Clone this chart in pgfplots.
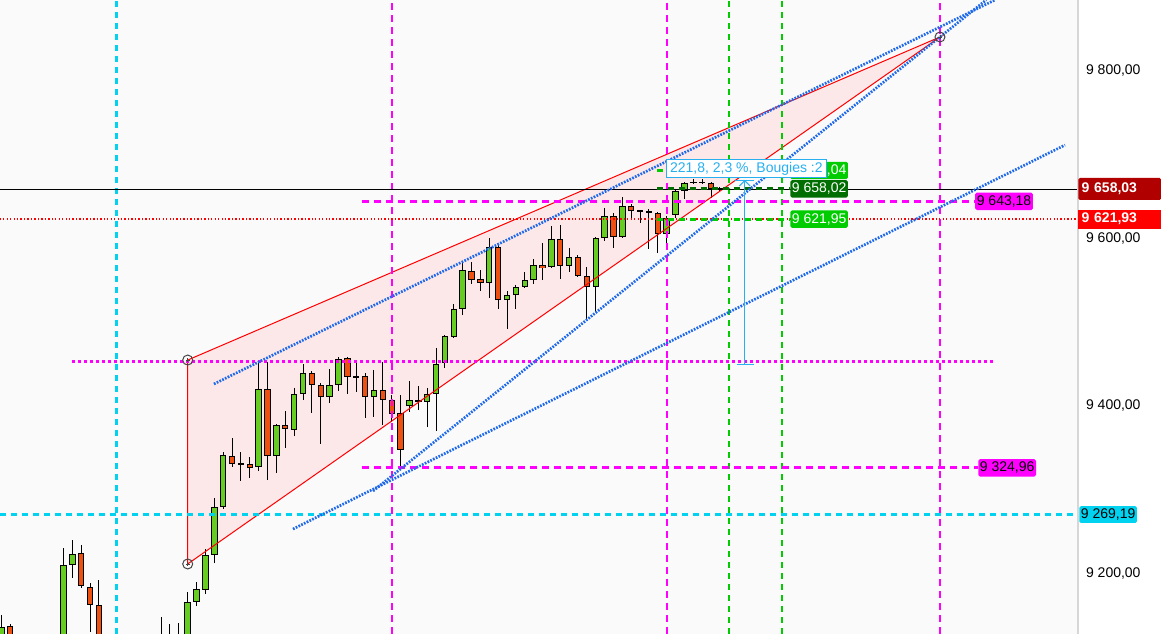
\documentclass[border=0pt]{standalone}
\usepackage{pgfplots}
\pgfplotsset{compat=1.18}
\usepackage{pgfplotstable}
\usepackage{fontspec}
\setmainfont{Liberation Sans}

\definecolor{bgc}{RGB}{250,250,250}
\definecolor{upc}{RGB}{102,204,34}
\definecolor{dnc}{RGB}{238,80,18}
\definecolor{pinkf}{RGB}{253,232,233}
\definecolor{mag}{RGB}{255,0,255}
\definecolor{cy}{RGB}{0,210,240}
\definecolor{gr}{RGB}{0,204,0}
\definecolor{dgr}{RGB}{0,110,0}
\definecolor{blu}{RGB}{30,105,235}
\definecolor{meas}{RGB}{40,175,240}
\definecolor{dred}{RGB}{176,0,0}
\definecolor{axg}{RGB}{215,215,215}
\definecolor{circ}{RGB}{70,70,70}

\newcommand\lbl{\fontsize{10.5pt}{12pt}\selectfont}

% candles, k = bar index, o h l c
\pgfplotstableread{
k o h l c
-25 9110 9149.3 9100 9135.3
-18 9100 9229.3 9090 9208.6
-17 9208.6 9238.8 9193.8 9221.7
-7 9110 9147.2 9100 9115
-6 9105 9138.5 9095 9112
-5 9108 9139.7 9098 9114
-4 9115 9176.4 9105 9164.4
-3 9164.4 9188.3 9160.3 9179.9
-2 9178.7 9228.0 9174.7 9220.5
-1 9220.5 9288.6 9211.7 9277.9
0 9277.9 9343.5 9275.8 9340.0
4 9325.6 9451.3 9320.8 9418.8
6 9339.5 9377.3 9319.2 9375.7
8 9369.8 9419.9 9363.3 9412.8
9 9412.8 9449.0 9406.0 9437.9
12 9409.2 9443.0 9402.7 9423.5
13 9423.5 9457.7 9417.1 9454.6
17 9409.2 9441.4 9386.0 9417.6
21 9398.4 9428.6 9391.3 9405.6
23 9403.2 9420.7 9374.1 9412.8
24 9412.8 9468.1 9369.3 9449.0
25 9449.8 9483.5 9443.8 9482.4
26 9481.6 9520.6 9480.4 9514.3
27 9514.3 9570.4 9507.5 9560.8
30 9545.3 9599.0 9527.8 9588.3
32 9525.0 9535.7 9491.0 9531.0
33 9531.0 9542.9 9514.3 9540.5
34 9540.5 9558.4 9539.7 9548.9
35 9548.9 9573.9 9544.1 9566.8
37 9564.4 9613.7 9563.2 9597.8
39 9565.6 9587.1 9558.4 9576.4
42 9540.5 9600.2 9511.4 9599.0
43 9599.0 9634.9 9595.4 9625.3
45 9600.2 9648.0 9599.0 9637.2
50 9603.8 9625.7 9584.7 9622.9
51 9626.5 9657.5 9622.9 9655.2
52 9655.2 9666.6 9645.6 9664.7
}\upbars

\pgfplotstableread{
k o h l c
-24 9135.8 9138.5 9105 9115
-16 9222.9 9232.8 9182.0 9183.5
-15 9182.3 9187.5 9129.3 9160.8
-14 9160.8 9191.1 9100 9110
1 9339.5 9360.4 9325.6 9329.5
2 9330.0 9343.5 9309.6 9329.5
3 9329.2 9337.9 9312.8 9324.4
5 9418.8 9451.3 9310.4 9339.5
7 9375.7 9392.8 9349.0 9371.0
10 9437.9 9440.6 9390.8 9423.5
11 9423.9 9425.9 9353.4 9409.2
14 9455.8 9457.7 9413.5 9433.3
15 9434.4 9451.7 9415.9 9433.8
16 9434.3 9437.9 9384.1 9409.2
18 9417.6 9451.3 9376.1 9405.6
19 9405.6 9412.0 9380.0 9388.9
20 9390.1 9412.0 9322.4 9345.9
22 9405.6 9422.7 9394.4 9405.1
28 9560.8 9570.4 9544.5 9549.6
29 9550.1 9560.8 9536.5 9545.3
31 9588.3 9592.2 9515.0 9525.0
36 9566.8 9593.1 9549.6 9563.2
38 9597.8 9614.9 9550.8 9565.6
40 9576.4 9578.8 9552.5 9553.7
41 9553.7 9564.4 9501.5 9540.5
44 9625.3 9628.9 9587.1 9600.2
46 9637.2 9639.6 9622.9 9631.3
47 9632.5 9632.5 9617.0 9630.1
48 9631.3 9634.0 9585.9 9628.9
49 9628.9 9630.4 9581.1 9603.8
53 9665.9 9670.2 9663.5 9665.5
54 9665.9 9670.2 9663.5 9665.5
55 9664.7 9665.9 9647.5 9657.5
56 9658.5 9660.0 9656.0 9658.03
}\dnbars

\pgfplotsset{
  wick/.style={forget plot, draw=none, mark=none,
    error bars/.cd, y dir=both, y explicit, error mark=none,
    error bar style={draw=black, line width=0.75pt}},
  hl/.style={forget plot, mark=none},
}

\begin{document}
\begin{tikzpicture}
\begin{axis}[
  at={(0,0)}, anchor=south west,
  scale only axis, width=808.5pt, height=475.5pt,
  xmin=-25.16, xmax=96.37, ymin=9126.6, ymax=9883.6,
  axis line style={draw=none},
  axis background/.style={fill=bgc},
  xtick=\empty,
  ytick={9200,9400,9600,9800},
  yticklabel pos=right,
  major tick length=0pt,
  scaled y ticks=false,
  yticklabel style={font=\lbl, anchor=west, xshift=2.5pt, yshift=-0.6pt,
    /pgf/number format/.cd, fixed, fixed zerofill, precision=2,
    use comma, 1000 sep={\ }, assume math mode=true},
  clip=true,
]
% wedge fill
\addplot[hl, draw=none, fill=pinkf] coordinates {(-4,9453.7) (80.81,9839.4) (-4,9210.2) (-4,9453.7)};

% candles: wicks, body outline, body fill
\addplot[wick] table[x=k, y expr={(\thisrow{h}+\thisrow{l})/2}, y error expr={(\thisrow{h}-\thisrow{l})/2}] \upbars;
\addplot[wick] table[x=k, y expr={(\thisrow{h}+\thisrow{l})/2}, y error expr={(\thisrow{h}-\thisrow{l})/2}] \dnbars;
\addplot[forget plot, draw=none, mark=none, error bars/.cd, y dir=both, y explicit, error mark=none,
  error bar style={draw=black, line width=4.8pt}]
  table[x=k, y expr={(\thisrow{o}+\thisrow{c})/2}, y error expr={max(abs(\thisrow{c}-\thisrow{o})/2,1.0)}] \upbars;
\addplot[forget plot, draw=none, mark=none, error bars/.cd, y dir=both, y explicit, error mark=none,
  error bar style={draw=black, line width=4.8pt}]
  table[x=k, y expr={(\thisrow{o}+\thisrow{c})/2}, y error expr={max(abs(\thisrow{c}-\thisrow{o})/2,1.0)}] \dnbars;
\addplot[forget plot, draw=none, mark=none, error bars/.cd, y dir=both, y explicit, error mark=none,
  error bar style={draw=upc, line width=3.3pt}]
  table[x=k, y expr={(\thisrow{o}+\thisrow{c})/2}, y error expr={max(abs(\thisrow{c}-\thisrow{o})/2-1.2,0)}] \upbars;
\addplot[forget plot, draw=none, mark=none, error bars/.cd, y dir=both, y explicit, error mark=none,
  error bar style={draw=dnc, line width=3.3pt}]
  table[x=k, y expr={(\thisrow{o}+\thisrow{c})/2}, y error expr={max(abs(\thisrow{c}-\thisrow{o})/2-1.2,0)}] \dnbars;

% wedge edges
\addplot[hl, red, line width=0.75pt] coordinates {(-4,9453.7) (80.81,9839.4) (-4,9210.2) (-4,9453.7)};

% vertical lines
\addplot[hl, cy, line width=2pt, dash pattern=on 4.5pt off 3.75pt] coordinates {(-12,9126.6) (-12,9883.6)};
\addplot[hl, mag, line width=1.5pt, dash pattern=on 5.25pt off 3.75pt] coordinates {(19,9126.6) (19,9883.6)};
\addplot[hl, mag, line width=1.5pt, dash pattern=on 5.25pt off 3.75pt] coordinates {(50,9126.6) (50,9883.6)};
\addplot[hl, mag, line width=1.5pt, dash pattern=on 5.25pt off 3.75pt] coordinates {(80.81,9126.6) (80.81,9883.6)};
\addplot[hl, gr, line width=1.5pt, dash pattern=on 4.5pt off 3.75pt] coordinates {(57,9126.6) (57,9883.6)};
\addplot[hl, gr, line width=1.5pt, dash pattern=on 4.5pt off 3.75pt] coordinates {(63,9126.6) (63,9883.6)};

% horizontal levels
\addplot[hl, red, line width=1pt, dash pattern=on 1pt off 1.6pt] coordinates {(-25.2,9621.93) (96.4,9621.93)};
\addplot[hl, black, line width=0.6pt] coordinates {(-25.2,9658.03) (96.4,9658.03)};
\addplot[hl, cy, line width=2.25pt, dash pattern=on 4.5pt off 3.75pt] coordinates {(-25.2,9269.19) (96.4,9269.19)};
\addplot[hl, mag, line width=2.25pt, dash pattern=on 5.25pt off 3.75pt] coordinates {(15.65,9643.18) (84.75,9643.18)};
\addplot[hl, mag, line width=2.25pt, dash pattern=on 5.25pt off 3.75pt] coordinates {(15.65,9324.96) (85.1,9324.96)};
\addplot[hl, mag, line width=2.25pt, dash pattern=on 2.25pt off 2.25pt] coordinates {(-17.03,9452.5) (87.0,9452.5)};
\addplot[hl, gr, line width=2.25pt, dash pattern=on 4.5pt off 3.75pt] coordinates {(48.9,9680.04) (63.9,9680.04)};
\addplot[hl, dgr, line width=2.25pt, dash pattern=on 4.5pt off 3.75pt] coordinates {(48.9,9658.02) (63.9,9658.02)};
\addplot[hl, gr, line width=2.25pt, dash pattern=on 4.5pt off 3.75pt] coordinates {(48.9,9621.95) (63.9,9621.95)};

% trend lines
\addplot[hl, blu, line width=2pt, dash pattern=on 1.3pt off 1.0pt] coordinates {(-1.04,9425.1) (87.0,9883.6)};
\addplot[hl, blu, line width=2pt, dash pattern=on 1.3pt off 1.0pt] coordinates {(16.89,9297.3) (86.02,9883.6)};
\addplot[hl, blu, line width=2pt, dash pattern=on 1.3pt off 1.0pt] coordinates {(7.87,9251.9) (94.90,9710.4)};

% wedge anchor points
\addplot[hl, only marks, mark=o, mark size=3.75pt, circ, line width=0.75pt] coordinates {(-4,9453.7) (-4,9210.2) (80.81,9839.4)};
\addplot[hl, only marks, mark=+, mark size=1.4pt, circ, line width=0.5pt] coordinates {(-4,9453.7) (-4,9210.2) (80.81,9839.4)};

% measure tool
\addplot[hl, meas, line width=0.75pt] coordinates {(58.8,9668.6) (58.8,9447.8)};
\addplot[hl, meas, line width=0.75pt] coordinates {(57.9,9447.8) (59.82,9447.8)};
\addplot[hl, meas, line width=0.75pt] coordinates {(57.7,9668.0) (59.82,9668.0)};
\addplot[hl, meas, line width=0.75pt] coordinates {(58.2,9661.5) (58.8,9668.0) (59.4,9661.5)};

% labels on the lines
\node[fill=gr, text=white, font=\lbl, anchor=west, inner xsep=1.2pt, inner ysep=0pt, minimum height=13pt, rounded corners=1.2pt] at (axis cs:63.9,9680.04) {9 680,04};
\node[fill=dgr, text=white, font=\lbl, anchor=west, inner xsep=1.2pt, inner ysep=0pt, minimum height=13pt, rounded corners=1.2pt] at (axis cs:63.9,9658.02) {9 658,02};
\node[fill=gr, text=white, font=\lbl, anchor=west, inner xsep=1.2pt, inner ysep=0pt, minimum height=13pt, rounded corners=1.2pt] at (axis cs:63.9,9621.95) {9 621,95};
\node[fill=white, draw=meas, line width=0.75pt, text=meas, font=\lbl, inner xsep=2.6pt, inner ysep=0pt, minimum height=13.5pt] at (axis cs:58.98,9681.8) {221,8, 2,3 \%, Bougies :2};
\node[fill=mag, text=black, font=\lbl, anchor=west, inner xsep=1.2pt, inner ysep=0pt, minimum height=13pt, rounded corners=1.2pt] at (axis cs:84.75,9643.18) {9 643,18};
\node[fill=mag, text=black, font=\lbl, anchor=west, inner xsep=1.2pt, inner ysep=0pt, minimum height=13pt, rounded corners=1.2pt] at (axis cs:85.1,9324.96) {9 324,96};

\coordinate (r1) at (axis cs:96.37,9658.03);
\coordinate (r2) at (axis cs:96.37,9621.93);
\coordinate (r3) at (axis cs:96.37,9269.19);
\end{axis}

\draw[axg, line width=1.5pt] (808.5pt,0) -- (808.5pt,475.5pt);
\node[fill=dred, text=white, font=\bfseries\lbl, anchor=west, text width=57pt, align=left, inner xsep=2.6pt, inner ysep=0pt, minimum height=16.5pt, rounded corners=1.2pt] at (r1) {9 658,03};
\node[fill=red, text=white, font=\bfseries\lbl, anchor=west, text width=57pt, align=left, inner xsep=2.6pt, inner ysep=0pt, minimum height=14.25pt] at (r2) {9 621,93};
\node[fill=cy, text=black, font=\lbl, anchor=west, xshift=0.75pt, inner xsep=1.2pt, inner ysep=0pt, minimum height=12.5pt, rounded corners=1.2pt] at (r3) {9 269,19};

\pgfresetboundingbox
\path[use as bounding box] (0,0) rectangle (870.75pt,475.5pt);
\end{tikzpicture}
\end{document}
